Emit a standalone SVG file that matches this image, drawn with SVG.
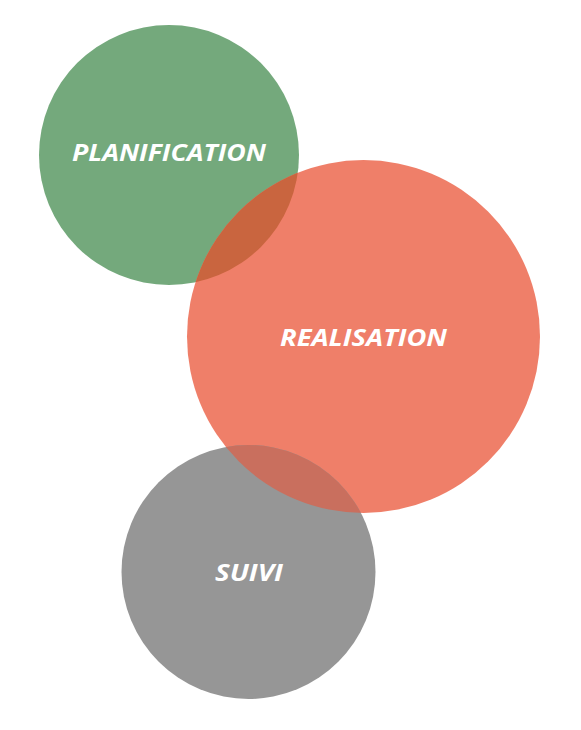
<svg xmlns="http://www.w3.org/2000/svg" width="581" height="730" viewBox="0 0 581 730">
<style>
.lbl{font-family:"Open Sans","Liberation Sans",sans-serif;font-weight:700;font-style:italic;font-size:24px;fill:#ffffff;text-anchor:middle}
</style>
<defs>
<clipPath id="clipRed"><circle cx="363.5" cy="336.5" r="176.5"/></clipPath>
</defs>
<rect width="581" height="730" fill="#ffffff"/>
<g id="planification">
<circle cx="169" cy="155" r="130" fill="#74a97c"/>
</g>
<g id="realisation">
<circle cx="363.5" cy="336.5" r="176.5" fill="#ef7f69"/>
</g>
<g id="suivi">
<circle cx="248.5" cy="572" r="127" fill="#969696"/>
</g>
<g id="overlaps">
<circle cx="169" cy="155" r="130" fill="#c9653f" clip-path="url(#clipRed)"/>
<circle cx="248.5" cy="572" r="127" fill="#c96f5e" clip-path="url(#clipRed)"/>
</g>
<g id="labels">
<text class="lbl" x="169" y="161" textLength="194" lengthAdjust="spacingAndGlyphs">PLANIFICATION</text>
<text class="lbl" x="363.5" y="346" textLength="167" lengthAdjust="spacingAndGlyphs">REALISATION</text>
<text class="lbl" x="249" y="581" textLength="68" lengthAdjust="spacingAndGlyphs">SUIVI</text>
</g>
</svg>
